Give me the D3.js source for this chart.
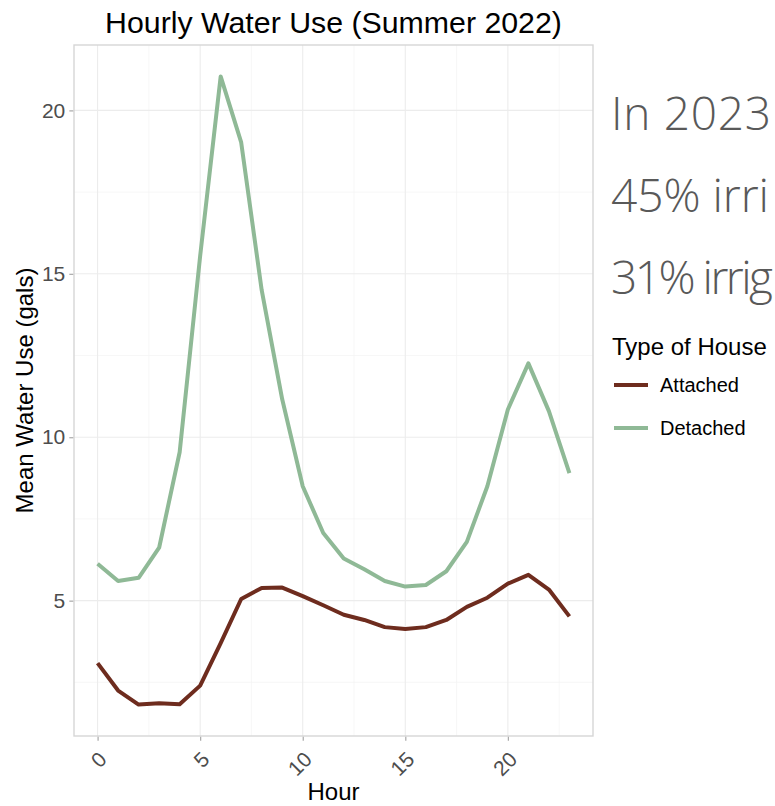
<!DOCTYPE html>
<html>
<head>
<meta charset="utf-8">
<script src="https://cdn.jsdelivr.net/npm/d3@7"></script>
<style>
  body { margin: 0; background: #fff; }
  text { font-family: "Liberation Sans", Arial, sans-serif; }
</style>
</head>
<body>
<div id="chart-container"></div>
<script>
// Data for the line chart
const hours = d3.range(0, 24);
const attached = [3.09, 2.25, 1.82, 1.86, 1.83, 2.40, 3.70, 5.05, 5.39, 5.40, 5.14, 4.86,
  4.57, 4.41, 4.19, 4.13, 4.19, 4.41, 4.81, 5.09, 5.52, 5.79, 5.34, 4.52];
const detached = [6.13, 5.60, 5.70, 6.62, 9.54, 15.55, 21.04, 19.02, 14.50, 11.16, 8.50, 7.07,
  6.29, 5.96, 5.60, 5.43, 5.48, 5.90, 6.80, 8.50, 10.85, 12.26, 10.80, 8.90];
const seriesNames = ["Attached", "Detached"];
const seriesColors = ["#6e2c1e", "#8fb996"];
const yTicks = [5, 10, 15, 20];
const xTicks = [0, 5, 10, 15, 20];
// Side notes, as much as the window shows of them
const sideNotes = ["In 2023", "45% irri", "31% irrig"];

const series = seriesNames.map((name, i) => ({
  name: name,
  color: seriesColors[i],
  values: hours.map((h, j) => ({ hour: h, use: (i === 0 ? attached : detached)[j] }))
}));

// Chart dimensions
const width = 775, height = 806;
const panel = { left: 74, right: 593, top: 45, bottom: 736 };

const svg = d3.select("#chart-container")
  .append("svg")
  .attr("width", width)
  .attr("height", height);

// ggplot-like 5% expansion of the data range
const allUse = attached.concat(detached);
const yMin = d3.min(allUse), yMax = d3.max(allUse);
const yPad = (yMax - yMin) * 0.05;
const xPad = 23 * 0.05;

const x = d3.scaleLinear()
  .domain([0 - xPad, 23 + xPad])
  .range([panel.left, panel.right]);

const y = d3.scaleLinear()
  .domain([yMin - yPad, yMax + yPad])
  .range([panel.bottom, panel.top]);

// Grid lines (minor then major)
const grid = svg.append("g");
const xMinor = [2.5, 7.5, 12.5, 17.5, 22.5];
const yMinor = [2.5, 7.5, 12.5, 17.5];

grid.selectAll(".xminor").data(xMinor).enter().append("line")
  .attr("x1", d => x(d)).attr("x2", d => x(d))
  .attr("y1", panel.top).attr("y2", panel.bottom)
  .attr("stroke", "#f4f4f4").attr("stroke-width", 0.7);
grid.selectAll(".yminor").data(yMinor).enter().append("line")
  .attr("y1", d => y(d)).attr("y2", d => y(d))
  .attr("x1", panel.left).attr("x2", panel.right)
  .attr("stroke", "#f4f4f4").attr("stroke-width", 0.7);
grid.selectAll(".xmajor").data(xTicks).enter().append("line")
  .attr("x1", d => x(d)).attr("x2", d => x(d))
  .attr("y1", panel.top).attr("y2", panel.bottom)
  .attr("stroke", "#ececec").attr("stroke-width", 1.1);
grid.selectAll(".ymajor").data(yTicks).enter().append("line")
  .attr("y1", d => y(d)).attr("y2", d => y(d))
  .attr("x1", panel.left).attr("x2", panel.right)
  .attr("stroke", "#ececec").attr("stroke-width", 1.1);

// Lines
const line = d3.line()
  .x(d => x(d.hour))
  .y(d => y(d.use));

svg.selectAll(".series")
  .data(series)
  .enter()
  .append("path")
  .attr("d", d => line(d.values))
  .attr("fill", "none")
  .attr("stroke", d => d.color)
  .attr("stroke-width", 4)
  .attr("stroke-linejoin", "round");

// Panel border
svg.append("rect")
  .attr("x", panel.left).attr("y", panel.top)
  .attr("width", panel.right - panel.left)
  .attr("height", panel.bottom - panel.top)
  .attr("fill", "none")
  .attr("stroke", "#d6d6d6")
  .attr("stroke-width", 1.4);

// Axes
const xAxis = svg.append("g")
  .attr("transform", `translate(0,${panel.bottom + 0.7})`)
  .call(d3.axisBottom(x).tickValues(xTicks).tickSize(4).tickPadding(0));
xAxis.selectAll("text")
  .attr("fill", "#4d4d4d")
  .style("font-size", "21px")
  .attr("text-anchor", "end")
  .attr("dy", "0.35em")
  .attr("transform", "translate(2,16) rotate(-45)");

const yAxis = svg.append("g")
  .attr("transform", `translate(${panel.left - 0.7},0)`)
  .call(d3.axisLeft(y).tickValues(yTicks).tickSize(4).tickPadding(4));
yAxis.selectAll("text")
  .attr("fill", "#4d4d4d")
  .style("font-size", "21px");

svg.selectAll(".tick line").attr("stroke", "#a8a8a8").attr("stroke-width", 1.2);
svg.selectAll(".domain").remove();

// Titles
svg.append("text")
  .attr("x", (panel.left + panel.right) / 2)
  .attr("y", 33)
  .attr("text-anchor", "middle")
  .style("font-size", "30.3px")
  .text("Hourly Water Use (Summer 2022)");

svg.append("text")
  .attr("x", (panel.left + panel.right) / 2)
  .attr("y", 800)
  .attr("text-anchor", "middle")
  .style("font-size", "24px")
  .text("Hour");

svg.append("text")
  .attr("transform", `translate(33,${(panel.top + panel.bottom) / 2}) rotate(-90)`)
  .attr("text-anchor", "middle")
  .style("font-size", "24px")
  .text("Mean Water Use (gals)");

// Side notes, stretched to the wide look of the original font
const noteWidths = [160, 158, 162];
svg.selectAll(".note")
  .data(sideNotes)
  .enter()
  .append("text")
  .attr("x", 611)
  .attr("y", (d, i) => 130 + i * 82)
  .attr("fill", "#595959")
  .attr("textLength", (d, i) => noteWidths[i])
  .attr("lengthAdjust", "spacing")
  .style("font-family", "'Open Sans', sans-serif")
  .style("font-weight", 300)
  .style("font-size", "46px")
  .text(d => d);

// Legend
const legend = svg.append("g").attr("transform", "translate(612,0)");
legend.append("text")
  .attr("x", 0).attr("y", 355)
  .style("font-size", "24px")
  .text("Type of House");

const items = legend.selectAll(".item")
  .data(series)
  .enter()
  .append("g")
  .attr("transform", (d, i) => `translate(0,${385 + i * 43})`);
items.append("line")
  .attr("x1", 2).attr("x2", 36)
  .attr("stroke", d => d.color)
  .attr("stroke-width", 4);
items.append("text")
  .attr("x", 48).attr("y", 7)
  .style("font-size", "20px")
  .text(d => d.name);
</script>
</body>
</html>
